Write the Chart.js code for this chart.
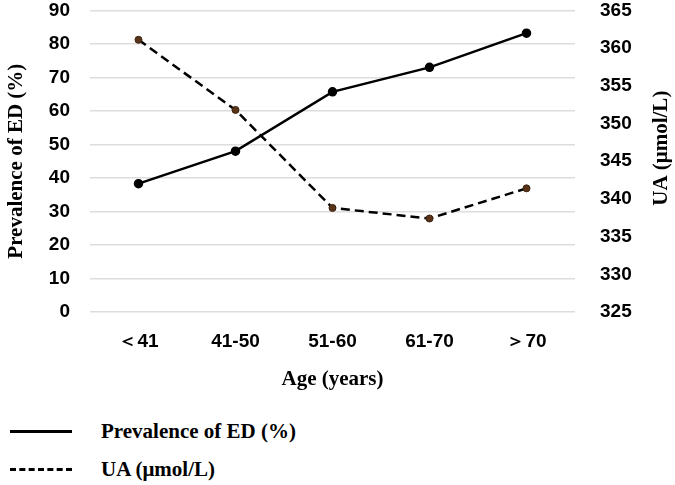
<!DOCTYPE html>
<html>
<head>
<meta charset="utf-8">
<script src="https://cdn.jsdelivr.net/npm/chart.js@4.4.1/dist/chart.umd.min.js"></script>
<style>
  body { margin: 0; background: #fff; overflow: hidden; }
  #wrap { position: relative; width: 675px; height: 485px; overflow: hidden; }
  #box { position: absolute; left: 0; top: -26px; width: 675px; height: 424px; }
  .leg { position: absolute; left: 10px; font: bold 21px "Liberation Serif", "Times New Roman", serif; color: #000; }
  .leg span.line { position: absolute; left: 0; width: 62px; top: 11px; border-top: 3.5px solid #000; }
  .leg span.txt { position: absolute; left: 91px; top: 0; white-space: nowrap; }
  #leg2 span.line { border-top: 3.5px dashed #000; }
</style>
</head>
<body>
<div id="wrap">
  <div id="box"><canvas id="chart"></canvas></div>
  <div class="leg" id="leg1" style="top:419px"><span class="line"></span><span class="txt">Prevalence of ED (%)</span></div>
  <div class="leg" id="leg2" style="top:457px"><span class="line"></span><span class="txt">UA (μmol/L)</span></div>
</div>
<script>
const ageGroups = ["＜41", "41-50", "51-60", "61-70", "＞70"];
const edPrevalence = [38.3, 48.0, 65.7, 73.0, 83.2];
const uaLevels = [361.1, 351.8, 338.8, 337.4, 341.4];

const tickFont = { family: "'Liberation Sans', Arial, sans-serif", size: 19, weight: "bold" };
const titleFont = { family: "'Liberation Serif', 'Times New Roman', serif", size: 21, weight: "bold" };

// right axis title reads bottom-to-top like the left one
const rightTitle = {
    id: "rightTitle",
    afterDraw(chart) {
        const ctx = chart.ctx;
        const area = chart.chartArea;
        ctx.save();
        ctx.translate(chart.width - 13, (area.top + area.bottom) / 2 - 13);
        ctx.rotate(-Math.PI / 2);
        ctx.font = "bold 21px 'Liberation Serif', 'Times New Roman', serif";
        ctx.fillStyle = "#000";
        ctx.textAlign = "center";
        ctx.textBaseline = "middle";
        ctx.fillText("UA (μmol/L)", 0, 0);
        ctx.restore();
    }
};

new Chart(document.getElementById("chart"), {
    type: "line",
    data: {
        labels: ageGroups,
        datasets: [{
            label: "Prevalence of ED (%)",
            data: edPrevalence,
            yAxisID: "y",
            borderColor: "#000",
            borderWidth: 2.5,
            pointRadius: 3.5,
            pointBackgroundColor: "#000",
            pointBorderColor: "#000",
            tension: 0
        }, {
            label: "UA (μmol/L)",
            data: uaLevels,
            yAxisID: "y1",
            borderColor: "#000",
            borderWidth: 2.5,
            borderDash: [9, 5],
            pointRadius: 3.5,
            pointBackgroundColor: "#5a3418",
            pointBorderColor: "#3a2210",
            pointBorderWidth: 1,
            tension: 0
        }]
    },
    options: {
        responsive: true,
        maintainAspectRatio: false,
        animation: false,
        layout: { padding: { top: 2, bottom: 2 } },
        plugins: { legend: { display: false }, tooltip: { enabled: false } },
        scales: {
            x: {
                offset: true,
                grid: { display: false },
                border: { display: false },
                ticks: { color: "#000", font: tickFont, padding: 10 },
                title: { display: true, text: "Age (years)", color: "#000", font: titleFont, padding: { top: 4 } }
            },
            y: {
                position: "left",
                min: 0, max: 90,
                ticks: { stepSize: 10, color: "#000", font: tickFont, padding: 20 },
                grid: { color: "#dddddd", lineWidth: 1.5, drawTicks: false },
                border: { display: false },
                title: { display: true, text: "Prevalence of ED (%)", color: "#000", font: titleFont, padding: { top: 4 } },
                afterFit(scale) { scale.width = 90; }
            },
            y1: {
                position: "right",
                min: 325, max: 365,
                ticks: { stepSize: 5, color: "#000", font: tickFont, padding: 25 },
                grid: { display: false, drawTicks: false },
                border: { display: false },
                afterFit(scale) { scale.width = 100; }
            }
        }
    },
    plugins: [rightTitle]
});
</script>
</body>
</html>
